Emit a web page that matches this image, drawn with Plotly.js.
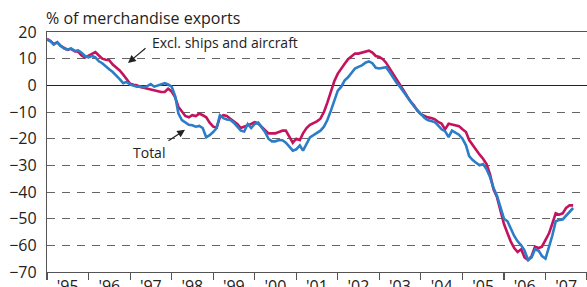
<!DOCTYPE html>
<html>
<head>
<meta charset="utf-8">
<script src="https://cdn.plot.ly/plotly-3.0.1.min.js"></script>
<style>html,body{margin:0;padding:0;background:#fff;}#chart{width:587px;height:287px;}</style>
</head>
<body>
<div id="chart"></div>
<script>
// Monthly values, Jan 1995 – Sep 2007, % of merchandise exports
const startYear = 1995;
const yearLabels = ["'95","'96","'97","'98","'99","'00","'01","'02","'03","'04","'05","'06","'07"];

const totalSeries = [
  // 1995
  17.2, 16.5, 15.3, 16.2, 14.8, 13.8, 13.4, 13.8, 12.9, 13.1, 12.2, 11.0,
  // 1996
  10.5, 11.0, 10.5, 9.0, 8.3, 7.0, 6.0, 5.0, 3.8, 2.3, 0.8, 1.3,
  // 1997
  0.3, 0.0, -0.5, -0.5, -0.7, -0.3, 0.5, -0.5, 0.0, 0.5, 0.8, 0.3,
  // 1998
  -0.5, -4.0, -10.5, -13.0, -14.0, -14.8, -15.0, -15.5, -15.2, -16.0, -19.5, -18.7,
  // 1999
  -17.5, -16.0, -11.2, -12.3, -12.8, -13.0, -14.0, -15.5, -17.0, -17.3, -14.5, -16.0,
  // 2000
  -14.5, -14.0, -15.5, -17.5, -20.0, -21.0, -21.0, -20.5, -20.6, -21.5, -23.0, -24.5,
  // 2001
  -24.0, -22.5, -24.5, -22.0, -19.5, -18.7, -18.0, -17.0, -15.5, -13.0, -9.5, -5.5,
  // 2002
  -2.0, -0.5, 1.8, 3.0, 4.5, 6.3, 6.9, 7.5, 8.5, 9.0, 8.3, 6.6,
  // 2003
  6.3, 6.5, 6.8, 5.0, 3.0, 1.0, -0.5, -2.5, -4.5, -6.0, -7.8, -9.3,
  // 2004
  -10.8, -12.2, -13.0, -13.3, -13.8, -15.0, -16.5, -17.2, -19.4, -17.0, -17.8, -18.5,
  // 2005
  -20.0, -22.5, -26.5, -28.0, -29.0, -30.0, -29.5, -31.5, -34.5, -38.5, -41.5, -46.0,
  // 2006
  -50.0, -51.0, -53.5, -56.5, -58.5, -60.0, -62.0, -65.5, -64.5, -61.5, -62.0, -64.0,
  // 2007
  -65.0, -60.5, -56.5, -51.0, -50.5, -50.3, -49.0, -47.5, -46.0
];

const exclShipsAircraft = [
  // 1995
  17.4, 16.6, 15.4, 16.1, 14.8, 13.9, 13.3, 13.7, 12.8, 12.6, 11.2, 10.4,
  // 1996
  11.2, 11.9, 12.5, 11.2, 10.0, 9.6, 9.4, 7.8, 6.6, 5.6, 4.0, 2.3,
  // 1997
  0.6, 0.2, 0.0, -0.6, -0.9, -1.2, -1.5, -1.9, -2.2, -2.5, -2.5, -1.3,
  // 1998
  -2.3, -4.5, -8.0, -10.0, -11.5, -12.0, -11.2, -11.5, -10.6, -11.2, -12.0, -14.0,
  // 1999
  -15.5, -15.8, -12.0, -11.2, -11.5, -12.5, -13.5, -14.5, -16.0, -15.6, -15.0, -14.5,
  // 2000
  -13.8, -14.3, -15.5, -16.8, -18.0, -18.0, -18.0, -17.5, -17.0, -17.0, -19.5, -21.5,
  // 2001
  -20.0, -20.5, -18.0, -16.0, -14.8, -14.2, -13.5, -12.5, -10.0, -6.5, -2.0, 1.5,
  // 2002
  4.4, 6.5, 8.0, 9.8, 11.0, 11.9, 11.9, 12.3, 12.8, 13.0, 12.3, 11.0,
  // 2003
  10.6, 9.8, 8.5, 6.5, 4.3, 2.3, 0.3, -1.8, -4.0, -6.0, -7.5, -9.5,
  // 2004
  -10.8, -11.5, -12.0, -12.3, -12.7, -13.7, -14.3, -16.5, -14.4, -14.7, -15.0, -15.3,
  // 2005
  -16.5, -17.5, -20.5, -22.5, -24.0, -26.0, -27.5, -29.5, -33.5, -39.0, -42.0, -47.0,
  // 2006
  -52.0, -55.5, -58.5, -61.0, -62.5, -61.5, -64.5, -65.5, -64.0, -60.5, -61.0, -60.5,
  // 2007
  -58.0, -55.5, -52.0, -48.0, -48.5, -48.0, -46.0, -45.0, -45.0
];

function monthDates(n) {
  const out = [];
  for (let i = 0; i < n; i++) {
    const y = startYear + Math.floor(i / 12);
    const m = (i % 12) + 1;
    out.push(y + '-' + String(m).padStart(2, '0') + '-01');
  }
  return out;
}

const labelDates = yearLabels.map((_, i) => (startYear + i) + '-07-02');

const font = 'Open Sans, Noto Sans, sans-serif';

const traces = [
  {
    x: monthDates(exclShipsAircraft.length), y: exclShipsAircraft,
    type: 'scatter', mode: 'lines', name: 'Excl. ships and aircraft',
    line: {color: '#C4135C', width: 2.6}
  },
  {
    x: monthDates(totalSeries.length), y: totalSeries,
    type: 'scatter', mode: 'lines', name: 'Total',
    line: {color: '#2B7DC8', width: 2.6}
  }
];

const layout = {
  width: 587, height: 287,
  margin: {l: 47, r: 0, t: 32, b: 15, pad: 0},
  paper_bgcolor: '#fff', plot_bgcolor: '#fff',
  showlegend: false,
  font: {family: font, size: 16, color: '#222'},
  title: {
    text: '% of merchandise exports',
    font: {family: font, size: 16, color: '#222'},
    x: 46 / 587, xref: 'container', xanchor: 'left',
    y: 1 - 18 / 287, yref: 'container', yanchor: 'middle'
  },
  xaxis: {
    type: 'date',
    range: ['1995-01-01', '2008-01-01'],
    tickvals: labelDates,
    ticktext: yearLabels,
    ticks: '',
    showgrid: false,
    zeroline: false,
    showline: true, linecolor: '#555', linewidth: 1.2,
    mirror: true,
    tickfont: {family: font, size: 16, color: '#222'},
    minor: {
      tickvals: yearLabels.map((_, i) => (startYear + i) + '-01-01').concat(['2008-01-01']),
      ticks: 'outside', ticklen: 7, tickwidth: 1.2, tickcolor: '#555', showgrid: false
    },
    fixedrange: true
  },
  yaxis: {
    range: [-70, 20],
    dtick: 10, tick0: 0,
    ticks: '',
    showline: true, linecolor: '#555', linewidth: 1.2,
    showgrid: true, gridcolor: '#666', gridwidth: 1, griddash: '8px,7px',
    zeroline: true, zerolinecolor: '#222', zerolinewidth: 1.2,
    tickfont: {family: font, size: 16, color: '#222'},
    ticklabelstandoff: 6,
    fixedrange: true
  },
  annotations: [
    {
      xref: 'paper', yref: 'paper', x: (150 - 47) / 540, y: (272.5 - 43) / 240.5,
      xanchor: 'left', yanchor: 'middle', showarrow: false,
      text: 'Excl. ships and aircraft', font: {family: font, size: 14, color: '#222'}
    },
    {
      xref: 'paper', yref: 'paper', x: (128 - 47) / 540, y: (272.5 - 63) / 240.5,
      text: '', showarrow: true, ax: 19, ay: -16,
      arrowhead: 2, arrowsize: 1.3, arrowwidth: 1.2, arrowcolor: '#222', standoff: 0
    },
    {
      xref: 'paper', yref: 'paper', x: (131 - 47) / 540, y: (272.5 - 153) / 240.5,
      xanchor: 'left', yanchor: 'middle', showarrow: false,
      text: 'Total', font: {family: font, size: 14, color: '#222'}
    },
    {
      xref: 'paper', yref: 'paper', x: (185 - 47) / 540, y: (272.5 - 130) / 240.5,
      text: '', showarrow: true, ax: -18, ay: 12,
      arrowhead: 2, arrowsize: 1.3, arrowwidth: 1.2, arrowcolor: '#222', standoff: 0
    }
  ]
};

Plotly.newPlot('chart', traces, layout, {displayModeBar: false, staticPlot: true});
</script>
</body>
</html>
